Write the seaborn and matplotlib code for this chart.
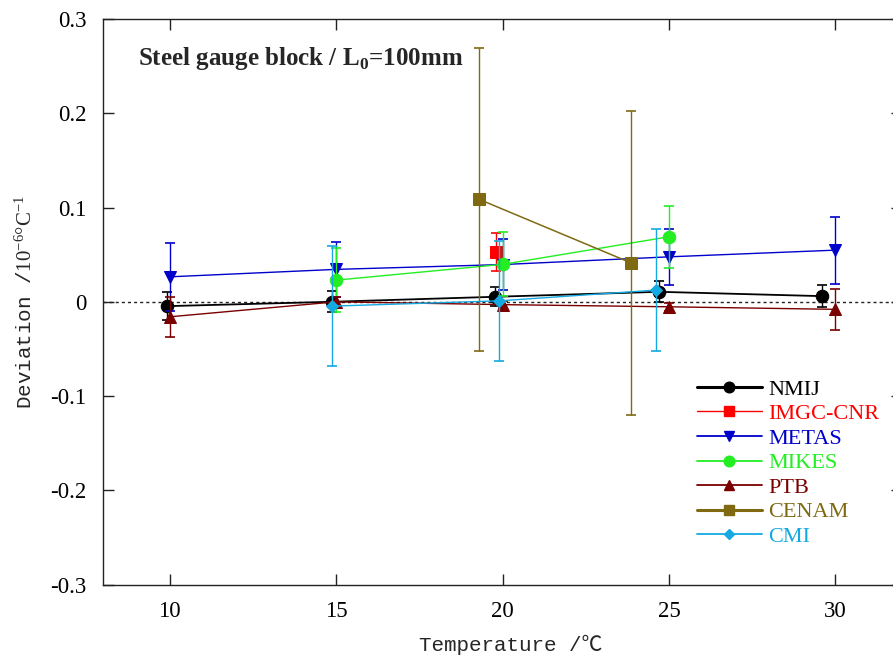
import matplotlib
matplotlib.use("Agg")
import matplotlib.pyplot as plt
from matplotlib.lines import Line2D
import seaborn as sns
import pandas as pd

# Laboratory results: temperature (degC), deviation and expanded uncertainty (1e-6/degC)
labs = ["NMIJ", "IMGC-CNR", "METAS", "MIKES", "PTB", "CENAM", "CMI"]

nmij_t = [9.92, 14.86, 19.76, 24.70, 29.60]
nmij_d = [-0.0046, 0.0000, 0.0053, 0.0106, 0.0060]
nmij_u = [0.015, 0.011, 0.010, 0.011, 0.012]

imgc_t = [19.80]
imgc_d = [0.053]
imgc_u = [0.020]

metas_t = [10.0, 15.0, 20.0, 25.0, 30.0]
metas_d = [0.0265, 0.0344, 0.0395, 0.0477, 0.0548]
metas_u = [0.036, 0.029, 0.027, 0.030, 0.0356]

mikes_t = [15.0, 20.0, 25.0]
mikes_d = [0.023, 0.0397, 0.069]
mikes_u = [0.034, 0.034, 0.033]

ptb_t = [10.0, 15.0, 20.0, 25.0, 30.0]
ptb_d = [-0.0159, 0.0000, -0.0030, -0.0053, -0.0080]
ptb_u = [0.021, 0.005, 0.004, 0.004, 0.0216]

cenam_t = [19.30, 23.85]
cenam_d = [0.1086, 0.0414]
cenam_u = [0.161, 0.161]

cmi_t = [14.86, 19.89, 24.60]
cmi_d = [-0.0046, 0.0010, 0.0124]
cmi_u = [0.064, 0.064, 0.0646]

x_ticks = [10, 15, 20, 25, 30]
y_ticks = [-0.3, -0.2, -0.1, 0, 0.1, 0.2, 0.3]
y_tick_labels = ["-0.3", "-0.2", "-0.1", "0", "0.1", "0.2", "0.3"]

series = {
    "NMIJ": (nmij_t, nmij_d, nmij_u),
    "IMGC-CNR": (imgc_t, imgc_d, imgc_u),
    "METAS": (metas_t, metas_d, metas_u),
    "MIKES": (mikes_t, mikes_d, mikes_u),
    "PTB": (ptb_t, ptb_d, ptb_u),
    "CENAM": (cenam_t, cenam_d, cenam_u),
    "CMI": (cmi_t, cmi_d, cmi_u),
}

colors = {
    "NMIJ": "#000000",
    "IMGC-CNR": "#ff0000",
    "METAS": "#0000cc",
    "MIKES": "#22ee22",
    "PTB": "#7a0000",
    "CENAM": "#7f6a12",
    "CMI": "#14a9e0",
}
markers = {"NMIJ": "o", "IMGC-CNR": "s", "METAS": "v", "MIKES": "o",
           "PTB": "^", "CENAM": "s", "CMI": "D"}
msizes = {"NMIJ": 9, "IMGC-CNR": 8.5, "METAS": 9, "MIKES": 9,
          "PTB": 9, "CENAM": 8.5, "CMI": 6.5}
line_w = {"NMIJ": 1.3, "IMGC-CNR": 1.0, "METAS": 1.0, "MIKES": 1.0,
          "PTB": 1.0, "CENAM": 1.1, "CMI": 1.0}
legend_w = {"NMIJ": 2.2, "IMGC-CNR": 1.0, "METAS": 1.3, "MIKES": 1.3,
            "PTB": 1.3, "CENAM": 2.2, "CMI": 1.3}

rows = []
for lab in labs:
    t, d, u = series[lab]
    for ti, di, ui in zip(t, d, u):
        rows.append({"lab": lab, "temp": ti, "dev": di, "unc": ui})
df = pd.DataFrame(rows)

sns.set_theme(style="ticks")
plt.rcParams["font.family"] = ["Liberation Serif", "DejaVu Serif"]
plt.rcParams["mathtext.fontset"] = "custom"
plt.rcParams["mathtext.rm"] = "Liberation Serif"
plt.rcParams["mathtext.bf"] = "Liberation Serif:bold"

fig = plt.figure(figsize=(8.93, 6.63), dpi=100)
W, H = 893.0, 663.0
ax = fig.add_axes([103.3 / W, (H - 584.6) / H, 798.7 / W, 565.6 / H])

ax.axhline(0, color="#222222", lw=1.0, ls=(0, (2.2, 2.2)), zorder=1)

for i, lab in enumerate(labs):
    sub = df[df["lab"] == lab]
    c = colors[lab]
    ax.errorbar(sub["temp"], sub["dev"], yerr=sub["unc"], fmt="none",
                ecolor=c, elinewidth=1.0, capsize=3.5, capthick=1.2,
                zorder=2 + i)
    sns.lineplot(data=sub, x="temp", y="dev", ax=ax, color=c,
                 estimator=None, sort=False, lw=line_w[lab],
                 marker=markers[lab], markersize=msizes[lab],
                 markeredgecolor=c, markerfacecolor=c,
                 zorder=2.5 + i, legend=False)

ax.set_xlim(8, 32)
ax.set_ylim(-0.3, 0.3)
ax.set_xticks(x_ticks)
ax.set_xticklabels([str(v) for v in x_ticks])
ax.set_yticks(y_ticks)
ax.set_yticklabels(y_tick_labels)
ax.tick_params(direction="in", length=8, width=1.0, top=True, right=True,
               labelsize=16.5, pad=12, color="#222222", labelcolor="black")
for s in ax.spines.values():
    s.set_linewidth(1.0)
    s.set_color("#222222")

mono = ["Liberation Mono", "Noto Sans CJK JP", "DejaVu Sans"]
ax.set_xlabel("Temperature /℃", family=mono, fontsize=15)
ax.set_ylabel(r"Deviation /$\mathrm{10^{-6}°C^{-1}}$", family=mono, fontsize=15)
ax.xaxis.set_label_coords(0.51, -0.088)
ax.yaxis.set_label_coords(-0.085, 0.5)

ax.text(0.0434, 0.919, r"Steel gauge block / L$_\mathbf{0}$=100mm",
        transform=ax.transAxes, fontsize=18, fontweight="bold",
        ha="left", va="baseline")

handles = [Line2D([0], [0], color=colors[lab], lw=legend_w[lab],
                  marker=markers[lab], markersize=msizes[lab] * 0.85,
                  markerfacecolor=colors[lab], markeredgecolor=colors[lab])
           for lab in labs]
leg = ax.legend(handles, labs, loc="upper left",
                bbox_to_anchor=(686 / W, (H - 368) / H),
                bbox_transform=fig.transFigure, frameon=False,
                fontsize=16, handlelength=2.9, handletextpad=0.3,
                labelspacing=0.18, borderpad=0.0, numpoints=1)
for txt, lab in zip(leg.get_texts(), labs):
    txt.set_color(colors[lab])

fig.savefig("out.png", dpi=100)
